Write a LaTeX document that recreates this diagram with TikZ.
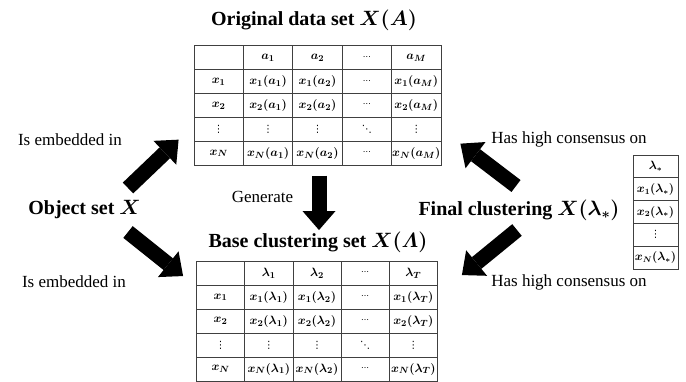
\documentclass[tikz,border=0pt]{standalone}
\usepackage{fontspec}
\setmainfont{Liberation Serif}
\newfontfamily\dvfont{DejaVu Sans}
\usepackage{amsmath}
\usetikzlibrary{matrix, arrows.meta, positioning, calc}
\newcommand{\cvdots}{\mbox{\dvfont\fontsize{10}{10}\selectfont ⋮}}
\newcommand{\cddots}{\mbox{\dvfont\fontsize{10}{10}\selectfont ⋱}}
\newcommand{\sdots}{\mbox{\dvfont\fontsize{8}{8}\selectfont ⋯}}
\tikzset{
    cell/.style = {draw=black!75, line width=0.8pt, minimum width=49.4pt, minimum height=23.9pt, inner sep=0pt, anchor=center, font=\fontsize{12.5}{14}\selectfont\boldmath},
    datatab/.style = {matrix of math nodes, nodes in empty cells, inner sep=0pt, outer sep=0pt, column sep=-0.8pt, row sep=-0.8pt, nodes={cell}},
    title/.style = {font=\fontsize{20}{24}\selectfont\bfseries\boldmath, inner sep=0pt},
    lbl/.style = {font=\fontsize{17}{20}\selectfont, inner sep=0pt},
    fat/.style = {line width=15pt, -{Triangle[width=33pt, length=19pt, line width=0pt]}}
}

\begin{document}
\begin{tikzpicture}[x=1pt, y=-1pt]
\useasboundingbox (0,0) rectangle (686,381);

% the three tables
\matrix (orig) [datatab] at (317.5,105.5) {
          & a_1      & a_2      & \sdots  & a_M      \\
  x_1     & x_1(a_1) & x_1(a_2) & \sdots  & x_1(a_M) \\
  x_2     & x_2(a_1) & x_2(a_2) & \sdots  & x_2(a_M) \\
  \cvdots & \cvdots  & \cvdots  & \cddots & \cvdots  \\
  x_N     & x_N(a_1) & x_N(a_2) & \sdots  & x_N(a_M) \\
};
\matrix (base) [datatab, nodes={minimum width=48.2pt}] at (317,321.2) {
          & \lambda_1      & \lambda_2      & \sdots  & \lambda_T      \\
  x_1     & x_1(\lambda_1) & x_1(\lambda_2) & \sdots  & x_1(\lambda_T) \\
  x_2     & x_2(\lambda_1) & x_2(\lambda_2) & \sdots  & x_2(\lambda_T) \\
  \cvdots & \cvdots        & \cvdots        & \cddots & \cvdots        \\
  x_N     & x_N(\lambda_1) & x_N(\lambda_2) & \sdots  & x_N(\lambda_T) \\
};
\matrix (fintab) [datatab, nodes={minimum width=45pt, minimum height=22.8pt, font=\fontsize{12}{14}\selectfont\boldmath}] at (655.5,212) {
  \lambda_*      \\
  x_1(\lambda_*) \\
  x_2(\lambda_*) \\
  \cvdots        \\
  x_N(\lambda_*) \\
};

% titles and labels
\node[title] (origtitle) at (314,20) {Original data set $X(A)$};
\node[title] (basetitle) at (318,242) {Base clustering set $X(\varLambda)$};
\node[title] (obj) at (84.5,210) {Object set $X$};
\node[title] (fin) at (519,210) {Final clustering $X(\lambda_*)$};

\node[lbl] (emb1) at (70,140) {Is embedded in};
\node[lbl] (emb2) at (74,282) {Is embedded in};
\node[lbl] (cons1) at (569,139) {Has high consensus on};
\node[lbl] (cons2) at (569,282) {Has high consensus on};
\node[lbl] (gen) at (262.5,197) {Generate};

% big arrows
\draw[fat] ($(obj.center)+(43.5,-22)$) -- ($(orig.south west)+(-15,-26)$);
\draw[fat] ($(obj.center)+(43.5,22)$) -- ($(base.north west)+(-13,15)$);
\draw[fat] ($(fin.center)+(-3,-24)$) -- ($(orig.south east)+(19,-22)$);
\draw[fat] ($(fin.center)+(-2,20)$) -- ($(base.north east)+(24,14)$);
\draw[fat] ($(orig.south)+(1.5,10)$) -- ($(base.north)+(2,-31)$);
\end{tikzpicture}
\end{document}
